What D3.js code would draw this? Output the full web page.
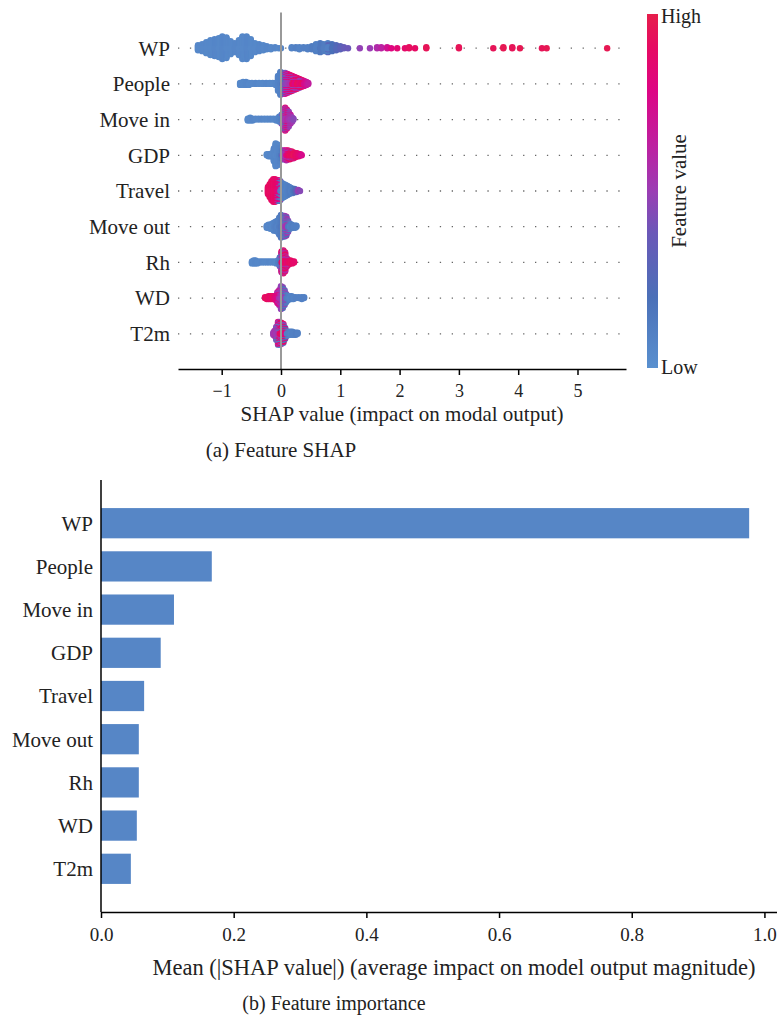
<!DOCTYPE html>
<html>
<head>
<meta charset="utf-8">
<script src="https://cdn.jsdelivr.net/npm/d3@7"></script>
<style>
  body { margin: 0; background: #fff; }
  text { font-family: "Liberation Serif", "DejaVu Serif", serif; fill: #222; }
</style>
</head>
<body>
<svg id="chart" width="777" height="1021" font-family="Liberation Serif, DejaVu Serif, serif"></svg>
<script>
// ---- data -------------------------------------------------------------
const features = ["WP", "People", "Move in", "GDP", "Travel", "Move out", "Rh", "WD", "T2m"];

// SHAP samples per feature: [shap value, number of samples, normalised feature value 0..1]
const shapWP = [
  [-1.40, 6, 0.05], [-1.33, 8, 0.05], [-1.26, 12, 0.05], [-1.19, 16, 0.05], [-1.12, 18, 0.06],
  [-1.05, 20, 0.05], [-0.99, 24, 0.06], [-0.92, 22, 0.05], [-0.85, 14, 0.05], [-0.78, 10, 0.06],
  [-0.71, 16, 0.05], [-0.65, 24, 0.05], [-0.58, 24, 0.06], [-0.51, 18, 0.05], [-0.44, 10, 0.05],
  [-0.37, 8, 0.06], [-0.30, 6, 0.05], [-0.24, 4, 0.06], [-0.17, 3, 0.05], [-0.10, 2, 0.06],
  [-0.04, 1, 0.05], [0.00, 1, 0.06],
  [0.18, 2, 0.08], [0.25, 2, 0.1], [0.31, 3, 0.08], [0.38, 2, 0.1], [0.45, 3, 0.1], [0.52, 4, 0.12],
  [0.59, 8, 0.1], [0.66, 10, 0.15], [0.72, 8, 0.12], [0.79, 6, 0.1], [0.79, 4, 0.28], [0.86, 8, 0.2],
  [0.93, 6, 0.25], [1.00, 4, 0.3], [1.06, 2, 0.35], [1.13, 1, 0.38],
  [1.33, 1, 0.48], [1.50, 1, 0.5], [1.62, 2, 0.58], [1.69, 2, 0.62], [1.79, 2, 0.72], [1.86, 1, 0.8],
  [1.96, 1, 0.85], [2.09, 1, 0.88], [2.16, 2, 0.92], [2.26, 1, 0.9], [2.45, 2, 0.95], [3.00, 2, 0.95],
  [3.58, 1, 0.95], [3.75, 2, 0.97], [3.90, 2, 0.95], [4.03, 1, 0.97], [4.40, 1, 0.95], [4.48, 1, 0.97],
  [5.50, 1, 0.97]
];
const shapPeople = [
  [-0.69, 3, 0.05], [-0.64, 4, 0.05], [-0.59, 4, 0.06], [-0.54, 3, 0.05], [-0.49, 2, 0.05],
  [-0.43, 2, 0.06], [-0.37, 2, 0.05], [-0.31, 2, 0.05], [-0.25, 2, 0.06], [-0.19, 2, 0.05],
  [-0.14, 2, 0.05], [-0.09, 3, 0.06], [-0.05, 16, 0.08], [-0.01, 24, 0.1],
  [0.03, 12, 0.2], [0.03, 10, 0.45],
  [0.07, 12, 0.45], [0.07, 10, 0.75],
  [0.11, 10, 0.5], [0.11, 10, 0.8],
  [0.15, 9, 0.55], [0.15, 9, 0.85],
  [0.19, 7, 0.5], [0.19, 9, 0.9],
  [0.23, 6, 0.55], [0.23, 8, 0.8],
  [0.27, 5, 0.6], [0.27, 7, 0.92],
  [0.31, 4, 0.5], [0.31, 6, 0.85],
  [0.35, 3, 0.55], [0.35, 5, 0.9],
  [0.39, 6, 0.75], [0.43, 4, 0.7], [0.46, 2, 0.65]
];
const shapMoveIn = [
  [-0.56, 3, 0.05], [-0.52, 4, 0.05], [-0.48, 3, 0.06], [-0.43, 2, 0.05], [-0.38, 2, 0.05],
  [-0.33, 2, 0.06], [-0.28, 2, 0.05], [-0.23, 2, 0.05], [-0.18, 2, 0.06], [-0.13, 2, 0.05],
  [-0.08, 3, 0.06], [-0.03, 6, 0.08],
  [0.01, 6, 0.12], [0.01, 4, 0.5],
  [0.04, 6, 0.3], [0.04, 12, 0.55],
  [0.07, 12, 0.5], [0.07, 12, 0.85],
  [0.10, 10, 0.6], [0.10, 10, 0.82],
  [0.13, 8, 0.55], [0.13, 8, 0.45],
  [0.16, 5, 0.5], [0.16, 5, 0.65],
  [0.19, 5, 0.5], [0.21, 2, 0.45]
];
const shapGDP = [
  [-0.24, 2, 0.05], [-0.21, 3, 0.05], [-0.18, 3, 0.06], [-0.15, 4, 0.05], [-0.12, 14, 0.06],
  [-0.09, 24, 0.05], [-0.06, 22, 0.06], [-0.03, 14, 0.08], [0.00, 8, 0.15],
  [0.03, 4, 0.35], [0.03, 6, 0.5],
  [0.06, 5, 0.5], [0.06, 5, 0.7],
  [0.09, 5, 0.55], [0.09, 6, 0.8],
  [0.12, 4, 0.6], [0.12, 6, 0.88],
  [0.15, 3, 0.55], [0.15, 6, 0.92],
  [0.18, 3, 0.6], [0.18, 5, 0.9],
  [0.21, 2, 0.7], [0.21, 5, 0.95],
  [0.24, 5, 0.9], [0.27, 4, 0.88], [0.30, 3, 0.85], [0.33, 2, 0.8], [0.35, 1, 0.75]
];
const shapTravel = [
  [-0.22, 8, 0.9], [-0.19, 14, 0.92], [-0.16, 20, 0.9], [-0.13, 24, 0.88], [-0.10, 24, 0.9],
  [-0.07, 16, 0.85], [-0.07, 6, 0.6],
  [-0.04, 14, 0.8], [-0.04, 8, 0.15],
  [-0.01, 8, 0.7], [-0.01, 12, 0.1],
  [0.02, 16, 0.08], [0.05, 14, 0.1], [0.08, 12, 0.08], [0.11, 10, 0.1], [0.14, 8, 0.12],
  [0.17, 6, 0.1], [0.20, 5, 0.15], [0.23, 4, 0.2], [0.26, 3, 0.35], [0.29, 2, 0.5], [0.32, 1, 0.45]
];
const shapMoveOut = [
  [-0.24, 3, 0.06], [-0.21, 4, 0.05], [-0.18, 5, 0.06], [-0.15, 6, 0.05], [-0.12, 9, 0.08],
  [-0.09, 10, 0.1], [-0.06, 12, 0.08], [-0.03, 18, 0.12], [0.00, 24, 0.15],
  [0.03, 14, 0.12], [0.03, 8, 0.3],
  [0.06, 10, 0.15], [0.06, 12, 0.5],
  [0.09, 8, 0.2], [0.09, 12, 0.55],
  [0.12, 6, 0.15], [0.12, 6, 0.5],
  [0.15, 6, 0.1], [0.18, 4, 0.12], [0.21, 3, 0.1], [0.24, 3, 0.1], [0.26, 2, 0.1]
];
const shapRh = [
  [-0.49, 3, 0.05], [-0.46, 4, 0.05], [-0.43, 4, 0.06], [-0.40, 3, 0.05], [-0.36, 2, 0.05],
  [-0.32, 2, 0.06], [-0.28, 2, 0.05], [-0.24, 2, 0.05], [-0.20, 2, 0.06], [-0.16, 2, 0.05],
  [-0.12, 2, 0.06], [-0.08, 3, 0.05], [-0.05, 4, 0.1],
  [-0.02, 6, 0.15], [-0.02, 4, 0.5],
  [0.01, 12, 0.9], [0.01, 10, 0.55],
  [0.04, 14, 0.92], [0.04, 10, 0.55],
  [0.07, 12, 0.9], [0.07, 8, 0.6],
  [0.10, 5, 0.85], [0.10, 4, 0.55],
  [0.13, 3, 0.9], [0.13, 2, 0.5],
  [0.16, 4, 0.92], [0.19, 3, 0.9], [0.22, 2, 0.88]
];
const shapWD = [
  [-0.27, 2, 0.9], [-0.24, 3, 0.92], [-0.21, 4, 0.9], [-0.18, 4, 0.88], [-0.15, 4, 0.92],
  [-0.12, 4, 0.85], [-0.09, 5, 0.8],
  [-0.06, 8, 0.75], [-0.06, 4, 0.55],
  [-0.03, 10, 0.55], [-0.03, 6, 0.7],
  [0.00, 14, 0.5], [0.00, 10, 0.45],
  [0.03, 12, 0.45], [0.03, 10, 0.2],
  [0.06, 8, 0.5], [0.06, 8, 0.15],
  [0.09, 6, 0.12], [0.09, 3, 0.45],
  [0.12, 5, 0.1], [0.15, 4, 0.08], [0.18, 4, 0.1], [0.21, 3, 0.08], [0.25, 2, 0.1],
  [0.30, 2, 0.1], [0.35, 3, 0.1], [0.39, 2, 0.1]
];
const shapT2m = [
  [-0.13, 3, 0.5], [-0.11, 6, 0.55],
  [-0.08, 8, 0.5], [-0.08, 6, 0.15],
  [-0.05, 10, 0.55], [-0.05, 10, 0.85], [-0.05, 4, 0.1],
  [-0.02, 10, 0.9], [-0.02, 10, 0.5], [-0.02, 4, 0.12],
  [0.01, 12, 0.9], [0.01, 8, 0.55], [0.01, 2, 0.1],
  [0.04, 10, 0.88], [0.04, 6, 0.45], [0.04, 4, 0.15],
  [0.07, 6, 0.8], [0.07, 6, 0.2],
  [0.10, 5, 0.1], [0.13, 4, 0.1], [0.16, 4, 0.08], [0.19, 4, 0.1], [0.22, 3, 0.1],
  [0.25, 3, 0.12], [0.28, 2, 0.1]
];
const shapByFeature = [shapWP, shapPeople, shapMoveIn, shapGDP, shapTravel, shapMoveOut, shapRh, shapWD, shapT2m];

// mean(|SHAP|) per feature
const meanAbsShap = [0.977, 0.167, 0.110, 0.090, 0.065, 0.057, 0.057, 0.054, 0.045];

const shapTicks = [-1, 0, 1, 2, 3, 4, 5];
const importanceTicks = [0, 0.2, 0.4, 0.6, 0.8, 1.0];

// feature-value colour map (low -> high)
const colorStops = [0, 0.2, 0.38, 0.5, 0.62, 0.78, 0.9, 1];
const colorValues = ["#5990cf", "#4b70b8", "#6a58b8", "#9b3db4", "#bb22a2", "#dd0585", "#e60a64", "#e61e4b"];

// ---- setup -------------------------------------------------------------
const svg = d3.select("#chart");
const serif = "Liberation Serif, DejaVu Serif, serif";
const color = d3.scaleLinear().domain(colorStops).range(colorValues).interpolate(d3.interpolateRgb);
const minus = d => (d < 0 ? "\u2212" + Math.abs(d) : String(d));

// ===== (a) beeswarm summary =====
const xShap = d3.scaleLinear().domain([-1.737, 5.818]).range([178, 626]);
const yRow = d3.scalePoint().domain(features).range([12.5, 369.5]).padding(1);
const rowStep = yRow.step();

const gTop = svg.append("g");

// dotted row guides
gTop.append("g").selectAll("line").data(features).join("line")
  .attr("x1", xShap.range()[0]).attr("x2", xShap.range()[1])
  .attr("y1", d => yRow(d)).attr("y2", d => yRow(d))
  .attr("stroke", "#666").attr("stroke-width", 1.3)
  .attr("stroke-dasharray", "1.3 10.6");

// stack samples of equal value symmetrically around the row centre
function swarm(entries, yCenter) {
  const groups = d3.group(entries, d => d[0]);
  const pts = [];
  let maxYs = 0;
  for (const [v, list] of groups) {
    const total = d3.sum(list, e => e[1]);
    const used = list.map(() => 0);
    const seq = [];
    for (let k = 0; k < total; k++) {
      let best = 0, bestDef = -Infinity;
      list.forEach((e, i) => {
        if (used[i] >= e[1]) return;
        const def = e[1] * (k + 1) / total - used[i];
        if (def > bestDef) { bestDef = def; best = i; }
      });
      used[best]++;
      seq.push(list[best][2]);
    }
    // alternate pair order so each colour reaches both sides of the row
    for (let k = 1; k + 1 < seq.length; k += 2) {
      const m = (k + 1) / 2;
      if (m % 2 === 1) { const t = seq[k]; seq[k] = seq[k + 1]; seq[k + 1] = t; }
    }
    seq.forEach((fv, k) => {
      const ys = Math.ceil(k / 2) * ((k % 2) * 2 - 1);
      pts.push({ v, fv, ys });
      if (ys > maxYs) maxYs = ys;
    });
  }
  const s = 0.36 * rowStep / (maxYs + 1);
  pts.forEach(p => { p.y = yCenter - p.ys * s; });
  pts.sort((a, b) => Math.abs(b.ys) - Math.abs(a.ys));
  return pts;
}

features.forEach((f, i) => {
  const pts = swarm(shapByFeature[i], yRow(f));
  gTop.append("g").selectAll("circle").data(pts).join("circle")
    .attr("cx", d => xShap(d.v)).attr("cy", d => d.y).attr("r", 3.2)
    .attr("fill", d => color(d.fv));
});

// zero line
gTop.append("line")
  .attr("x1", xShap(0)).attr("x2", xShap(0))
  .attr("y1", 12.5).attr("y2", 369)
  .attr("stroke", "#999").attr("stroke-width", 2);

// feature names
gTop.append("g").selectAll("text").data(features).join("text")
  .attr("x", 170).attr("y", d => yRow(d)).attr("dy", "0.35em")
  .attr("text-anchor", "end").attr("font-size", 21).text(d => d);

// x axis
const axTop = gTop.append("g").attr("transform", "translate(0,369)")
  .call(d3.axisBottom(xShap).tickValues(shapTicks).tickFormat(minus).tickSize(6).tickSizeOuter(0));
axTop.attr("font-family", serif);
axTop.select(".domain").attr("stroke", "#000").attr("stroke-width", 1.5);
axTop.selectAll(".tick line").attr("stroke", "#000").attr("stroke-width", 1.5);
axTop.selectAll(".tick text").attr("font-size", 18).attr("fill", "#222").attr("dy", "1.05em");

gTop.append("text").attr("x", 402).attr("y", 421).attr("text-anchor", "middle")
  .attr("font-size", 21).text("SHAP value (impact on modal output)");
gTop.append("text").attr("x", 281).attr("y", 457).attr("text-anchor", "middle")
  .attr("font-size", 21).text("(a) Feature SHAP");

// colour bar
const grad = svg.append("defs").append("linearGradient").attr("id", "fvGrad")
  .attr("x1", 0).attr("x2", 0).attr("y1", 1).attr("y2", 0);
grad.selectAll("stop").data(colorStops).join("stop")
  .attr("offset", d => d).attr("stop-color", (d, i) => colorValues[i]);
const cbY = d3.scaleLinear().domain([0, 1]).range([368, 14]);
gTop.append("rect").attr("x", 647).attr("width", 11)
  .attr("y", cbY(1)).attr("height", cbY(0) - cbY(1)).attr("fill", "url(#fvGrad)");
gTop.append("text").attr("x", 661).attr("y", 23).attr("font-size", 20).text("High");
gTop.append("text").attr("x", 661).attr("y", 374).attr("font-size", 20).text("Low");
gTop.append("text").attr("transform", "translate(686,191) rotate(-90)")
  .attr("text-anchor", "middle").attr("font-size", 21).text("Feature value");

// ===== (b) mean |SHAP| bar chart =====
const xImp = d3.scaleLinear().domain([0, 1.0265]).range([101, 782]);
const yBar = d3.scaleBand().domain(features).range([480, 912]).paddingInner(0.3).paddingOuter(0.65);

const gBot = svg.append("g");
gBot.append("g").selectAll("rect").data(features).join("rect")
  .attr("x", xImp(0)).attr("y", d => yBar(d))
  .attr("width", (d, i) => xImp(meanAbsShap[i]) - xImp(0))
  .attr("height", yBar.bandwidth())
  .attr("fill", "#5686c6");

gBot.append("line").attr("x1", 101).attr("x2", 101).attr("y1", 480).attr("y2", 912)
  .attr("stroke", "#000").attr("stroke-width", 1.5);

gBot.append("g").selectAll("text").data(features).join("text")
  .attr("x", 93).attr("y", d => yBar(d) + yBar.bandwidth() / 2).attr("dy", "0.35em")
  .attr("text-anchor", "end").attr("font-size", 21).text(d => d);

const axBot = gBot.append("g").attr("transform", "translate(0,912)")
  .call(d3.axisBottom(xImp).tickValues(importanceTicks).tickFormat(d3.format(".1f")).tickSize(6).tickSizeOuter(0));
axBot.attr("font-family", serif);
axBot.select(".domain").attr("stroke", "#000").attr("stroke-width", 1.5);
axBot.selectAll(".tick line").attr("stroke", "#000").attr("stroke-width", 1.5);
axBot.selectAll(".tick text").attr("font-size", 19).attr("fill", "#222").attr("dy", "1.05em");

gBot.append("text").attr("x", 454).attr("y", 975).attr("text-anchor", "middle")
  .attr("font-size", 22.5).text("Mean (|SHAP value|) (average impact on model output magnitude)");
gBot.append("text").attr("x", 334).attr("y", 1010).attr("text-anchor", "middle")
  .attr("font-size", 20).text("(b) Feature importance");
</script>
</body>
</html>
